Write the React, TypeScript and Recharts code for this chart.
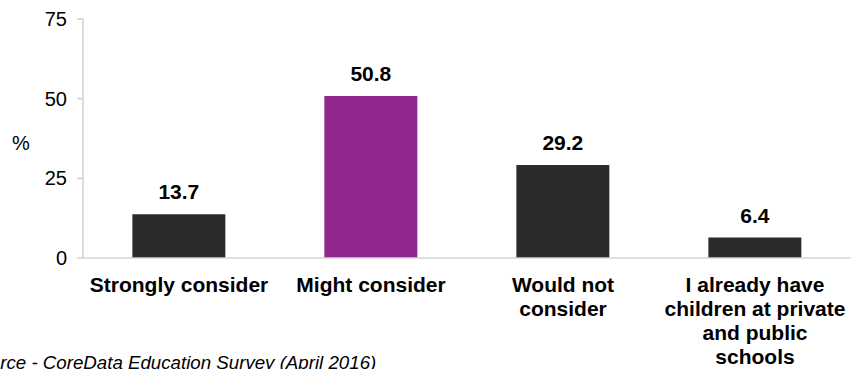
import { Bar, BarChart, Cell, LabelList, XAxis, YAxis } from "recharts";

const categories = [
  "Strongly consider",
  "Might consider",
  "Would not\nconsider",
  "I already have\nchildren at private\nand public\nschools",
];
const values = [13.7, 50.8, 29.2, 6.4];
const barColors = ["#2b2b2b", "#92278f", "#2b2b2b", "#2b2b2b"];
const yTicks = [0, 25, 50, 75];

const data = categories.map((name, i) => ({ name, value: values[i] }));

const FONT = "Arial, 'Liberation Sans', sans-serif";

// x labels are bold and wrapped at fixed points, like the source chart
function CategoryTick(props: any) {
  const { x, y, payload } = props;
  const lines = String(payload.value).split("\n");
  return (
    <text x={x} y={y} textAnchor="middle" fontFamily={FONT} fontSize={21} fontWeight="bold" fill="#000">
      {lines.map((l, i) => (
        <tspan key={i} x={x} dy={i === 0 ? 34 : 24}>
          {l}
        </tspan>
      ))}
    </text>
  );
}

export default function App() {
  return (
    <div
      style={{
        position: "absolute",
        top: 0,
        left: 0,
        width: 851,
        height: 369,
        overflow: "hidden",
        background: "#fff",
        fontFamily: FONT,
      }}
    >
      <BarChart
        width={851}
        height={369}
        data={data}
        margin={{ top: 19, right: 0, bottom: 0, left: 0 }}
        barCategoryGap="25.7%"
      >
        <XAxis
          dataKey="name"
          interval={0}
          height={111}
          tickLine={false}
          tickSize={0}
          tickMargin={0}
          axisLine={{ stroke: "#d4d4d4", strokeWidth: 1.5 }}
          tick={<CategoryTick />}
        />
        <YAxis
          width={83}
          domain={[0, 75]}
          ticks={yTicks}
          interval={0}
          tickSize={6}
          tickMargin={10}
          axisLine={{ stroke: "#d0d0d0", strokeWidth: 1.5 }}
          tickLine={{ stroke: "#d0d0d0", strokeWidth: 1.5 }}
          tick={{ fill: "#000", fontSize: 20, fontFamily: FONT }}
          label={{
            value: "%",
            position: "insideLeft",
            offset: 12,
            dy: 4,
            fill: "#000",
            fontSize: 20,
            fontFamily: FONT,
          }}
        />
        <Bar dataKey="value" isAnimationActive={false}>
          {data.map((d, i) => (
            <Cell key={d.name} fill={barColors[i]} />
          ))}
          <LabelList
            dataKey="value"
            position="top"
            offset={15}
            fill="#000"
            fontSize={21}
            fontWeight="bold"
            fontFamily={FONT}
            formatter={(v: any) => Number(v).toFixed(1)}
          />
        </Bar>
      </BarChart>
      <div
        style={{
          position: "absolute",
          left: -33,
          top: 353,
          fontSize: 18.7,
          lineHeight: "19px",
          fontStyle: "italic",
          color: "#000",
          whiteSpace: "nowrap",
        }}
      >
        Source - CoreData Education Survey (April 2016)
      </div>
    </div>
  );
}
